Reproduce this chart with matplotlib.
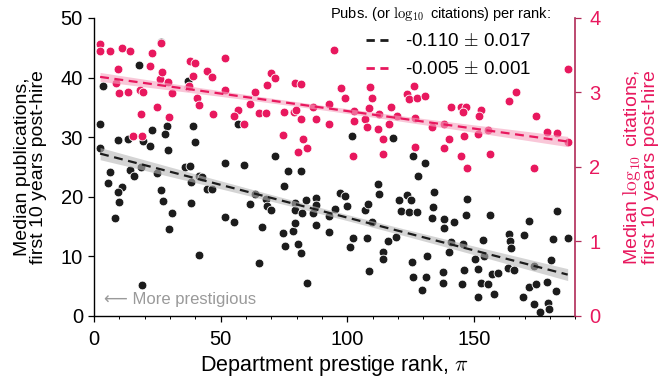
import numpy as np
import matplotlib
matplotlib.use("Agg")
import matplotlib.pyplot as plt
from matplotlib.lines import Line2D

plt.rcParams['font.family'] = ['Liberation Sans', 'DejaVu Sans']
plt.rcParams['mathtext.fontset'] = 'cm'

# ---- data: median publications (left axis) ----
pubs_x = [3.7, 17.9, 2.4, 2.4, 9.4, 13.3, 19.5, 22.8, 22.2, 28.8, 28.1, 29.4, 6.3, 5.4, 11.2, 9.6, 10, 8.3,
          14.2, 15.6, 18.5, 24.8, 26.5, 27.2, 30.7, 29.8, 18.9, 41.3, 38.9, 39.7, 36, 38, 38.4, 38.4, 41.3,
          42.6, 44.6, 46.6, 37, 26.5,
          51.8, 59.4, 56.7, 51.8, 55.1, 61.5, 63.4, 66.4, 65, 67.9, 68.3, 70, 71.4, 75.2, 76.6, 74.7, 75.3,
          78.6, 79.5, 79.5, 79.5, 81.8, 80.6, 81.8, 82.2, 83.5, 84.2, 86.4, 87.7, 87.5, 87.5, 92.7, 92.7, 95.1,
          102, 118.2, 126.1, 130.7, 127.9, 97.3, 98.9, 100, 102.3, 101, 107.6, 107, 108.3, 108.5, 109.6,
          112.1, 112.5, 116.1, 114.1, 114.1, 119.4, 120.4, 123.5, 125.3, 121.1, 124.4, 127.7, 134.3, 133.9,
          133.4, 125.7, 126.1, 129.4, 131, 131.4, 137.6, 137.6, 138.2, 138.2, 140.9, 142.2, 140.2,
          147.2, 146.8, 145.5, 145.9, 145.1, 156.3, 153.7, 154.1, 150.4, 151.7, 152.7, 155.4, 151.7, 158,
          157, 159.3, 164, 164.4, 164.6, 163.3, 165.7, 169.9, 171.9, 169.5, 171.9, 174.5, 173.8, 173.6,
          176.2, 179.1, 179.5, 178.9, 180.5, 181.1, 182.4, 182.7, 187]
pubs_y = [38.6, 42.1, 32.2, 28.1, 29.6, 29.7, 29.3, 31.2, 28.5, 31.9, 30.5, 27.8, 24.1, 22.3, 21.7, 20.8, 19.1, 16.4,
          24.5, 23.5, 25.0, 23.9, 21.1, 19.2, 17.3, 14.6, 5.2, 10.3, 31.9, 29.2, 25.0, 25.1, 22.5, 18.9, 23.5,
          23.3, 21.3, 21.3, 39.4, 46.0,
          25.7, 25.3, 32.2, 16.6, 15.8, 18.7, 20.5, 14.9, 8.9, 19.6, 18.4, 17.8, 26.8, 21.8, 24.3, 13.9, 11.8,
          14.3, 15.6, 18.9, 17.7, 24.3, 12.1, 10.6, 17.2, 19.4, 5.5, 17.3, 19.8, 18.6, 15.2, 16.8, 14.0, 18.0,
          30.2, 29.9, 26.8, 25.6, 23.5, 20.6, 20.2, 18.5, 13.1, 11.6, 13.0, 17.8, 18.7, 7.6, 15.7,
          22.2, 20.5, 12.5, 10.8, 9.5, 13.2, 19.5, 20.3, 19.5, 17.6, 17.4, 17.4, 20.8, 18.3,
          16.4, 9.1, 6.5, 4.4, 6.5, 10.1, 7.4, 5.6, 16.2, 14.8, 12.4, 15.7, 10.7,
          19.7, 17.0, 12.0, 7.7, 5.4, 17.0, 12.8, 10.1, 9.5, 7.9, 5.5, 5.4, 3.2, 3.7,
          7.1, 7.2, 13.8, 12.5, 11.4, 8.0, 7.7, 13.5, 16.0, 3.2, 4.8, 5.4, 8.3, 2.0,
          0.6, 2.2, 1.1, 5.7, 9.3, 12.9, 4.2, 17.6, 13.1]

# ---- data: median log10 citations (right axis) ----
cit_x = [2.4, 2.4, 6.3, 11.2, 14.2, 26.5, 22.8, 9.4, 8.6, 10, 13.6, 18.2, 19.5, 22.2, 26.1, 27, 29.4, 30.7,
         24.8, 18.5, 29.7, 15.3, 18.9, 38, 39.7, 38.9, 37.3, 37.6, 40.6, 41.5, 44.6, 46.6, 46.8,
         51.8, 51.8, 56.9, 55.1, 59.4, 61.7, 63.4, 68.3, 70, 71.4, 65, 67.9, 75.2, 78.9, 79.7, 81.8, 79.5,
         81.8, 74.7, 82.4, 80.6, 84.2, 86.4, 87.7, 92.7, 92.7, 94.7,
         97.6, 99.1, 102.6, 102.6, 102.2, 107, 107.9, 108.5, 108.9, 109.6, 112.1, 112.5, 114.2, 114.1,
         116.5, 117.1, 119.5, 123.5, 126.4, 124.4, 127.7, 130.7, 126.8, 126.8, 133.6, 138.2, 138.2, 140.2, 140.9,
         187, 166.6, 164, 174.5, 144.8, 146.8, 145.5, 152.7, 151.8, 155.4, 151.7, 145.9, 144.8, 147.2,
         156.3, 173.6, 178.9, 182.7, 187]
cit_y = [3.65, 3.55, 3.56, 3.60, 3.55, 3.66, 3.53, 3.32, 3.13, 2.99, 3.0, 3.03, 3.01, 3.36, 3.18, 3.28, 3.14, 2.99,
         2.81, 2.71, 2.67, 2.42, 2.42, 3.42, 3.40, 3.22, 3.07, 3.09, 2.93, 2.83, 3.29, 3.21, 2.71,
         3.46, 3.03, 2.77, 2.69, 2.57, 2.85, 3.01, 3.10, 3.26, 3.19, 2.73, 2.73, 2.74, 2.74, 2.77, 2.65, 3.13,
         3.12, 2.43, 2.37, 2.20, 2.25, 2.80, 2.64, 2.84, 2.58, 3.57,
         3.06, 2.92, 2.75, 2.62, 2.15, 2.64, 2.54, 2.79, 3.07, 2.92, 2.51, 2.71, 2.37, 2.17,
         2.57, 2.80, 2.69, 2.98, 3.08, 2.91, 2.92, 2.95, 2.66, 2.27, 2.54, 2.58, 2.26, 2.37, 2.80,
         3.32, 3.0, 2.89, 2.68, 2.80, 2.80, 2.74, 2.76, 2.69, 2.49, 2.44, 2.41, 2.15, 1.98,
         2.17, 1.99, 2.47, 2.45, 2.33]

# fitted lines (intercept, slope)
pubs_fit = (27.5, -0.110)
cit_fit = (3.22, -0.0047)
legend_labels = ["-0.110 $\\pm$ 0.017", "-0.005 $\\pm$ 0.001"]
legend_title = "Pubs. (or $\\log_{10}$ citations) per rank:"
xticks = [0, 50, 100, 150]

BLACK = '#1c1c1c'
RED = '#e8185e'
SPINE_RED = '#b02a58'

fig = plt.figure(figsize=(6.62, 3.82), dpi=100)
ax = fig.add_axes([0.142, 0.173, 0.727, 0.780])
ax2 = ax.twinx()


def band(x, y, fit, xs):
    x = np.asarray(x); y = np.asarray(y)
    b0, b1 = fit
    res = y - (b0 + b1 * x)
    s = np.sqrt(np.sum(res ** 2) / (len(x) - 2))
    sxx = np.sum((x - x.mean()) ** 2)
    se = s * np.sqrt(1.0 / len(x) + (xs - x.mean()) ** 2 / sxx)
    yl = b0 + b1 * xs
    return yl, se


xs = np.linspace(min(pubs_x), max(pubs_x), 200)
yl, se = band(pubs_x, pubs_y, pubs_fit, xs)
ax.scatter(pubs_x, pubs_y, s=40, color=BLACK, edgecolor='white', linewidth=0.6, zorder=2)
ax.fill_between(xs, yl - se, yl + se, color='#b8b8b8', alpha=0.6, lw=0, zorder=3)
ax.plot(xs, yl, ls=(0, (4, 2.5)), color=BLACK, lw=1.6, zorder=4)

xs2 = np.linspace(min(cit_x), max(cit_x), 200)
yl2, se2 = band(cit_x, cit_y, cit_fit, xs2)
ax2.scatter(cit_x, cit_y, s=40, color=RED, edgecolor='white', linewidth=0.6, zorder=2)
ax2.fill_between(xs2, yl2 - se2, yl2 + se2, color='#f5a3bf', alpha=0.6, lw=0, zorder=3)
ax2.plot(xs2, yl2, ls=(0, (4, 2.5)), color=RED, lw=1.6, zorder=4)

ax.set_xlim(0, 190)
ax.set_ylim(0, 50)
ax2.set_ylim(0, 4)
ax.set_xticks(xticks)
ax.set_xticks(np.arange(0, 191, 10), minor=True)
ax.set_yticks([0, 10, 20, 30, 40, 50])
ax2.set_yticks([0, 1, 2, 3, 4])

for a in (ax, ax2):
    a.spines['top'].set_visible(False)
ax2.spines['left'].set_visible(False)
ax2.spines['bottom'].set_visible(False)
ax.spines['right'].set_visible(False)
ax2.spines['right'].set_color(SPINE_RED)
ax2.spines['right'].set_linewidth(1.2)
ax.spines['left'].set_linewidth(1.0)
ax.spines['bottom'].set_linewidth(1.0)

ax.tick_params(axis='both', which='major', labelsize=14.5, direction='out', length=4, width=0.9)
ax.tick_params(axis='x', which='major', pad=6)
ax.tick_params(axis='y', which='major', pad=4)
ax.tick_params(axis='x', which='minor', direction='out', length=2.5, width=0.7)
ax2.tick_params(axis='y', which='major', labelsize=14.5, direction='out', length=4, width=0.9,
                colors=RED, labelcolor=RED, pad=6)
ax2.tick_params(axis='y', color=SPINE_RED)

ax.set_xlabel("Department prestige rank, $\\pi$", fontsize=15.5, labelpad=3)
ax.set_ylabel("Median publications,\nfirst 10 years post-hire", fontsize=14, labelpad=10,
              linespacing=0.88)
ax2.set_ylabel("Median $\\log_{10}$ citations,\nfirst 10 years post-hire", fontsize=14,
               color=RED, labelpad=15, linespacing=0.88)

ax.text(4, 2.7, "\u27f5 More prestigious", fontsize=12, color='#9a9a9a', va='center', ha='left',
        family=['Liberation Sans', 'DejaVu Sans'])

fig.text(330 / 662, 1 - 14 / 382, legend_title, fontsize=10.5, ha='left', va='center')
handles = [Line2D([0], [0], color=BLACK, ls=(0, (3, 2)), lw=2.0),
           Line2D([0], [0], color=RED, ls=(0, (3, 2)), lw=2.0)]
leg = fig.legend(handles, legend_labels, loc='upper left', bbox_to_anchor=(366 / 662, 1 - 33 / 382),
                 frameon=False, fontsize=13.5, handlelength=1.15, handletextpad=0.95,
                 labelspacing=0.6, borderaxespad=0, borderpad=0)

fig.savefig("out.png", dpi=100)
